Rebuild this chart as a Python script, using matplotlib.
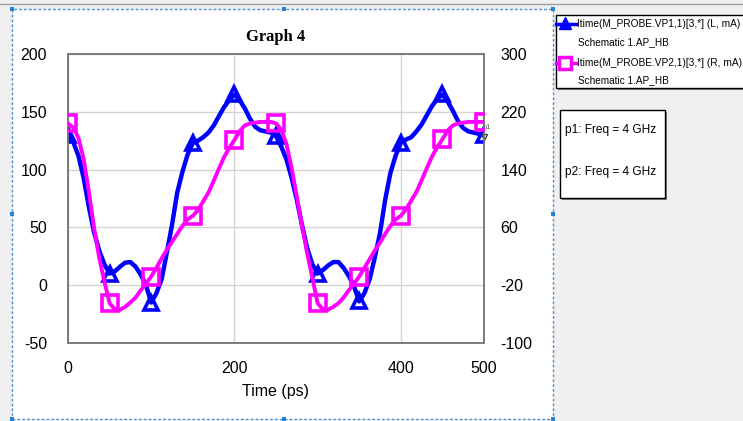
import numpy as np
import matplotlib
matplotlib.use("Agg")
import matplotlib.pyplot as plt
import matplotlib.patches as mpatches
from matplotlib.lines import Line2D

plt.rcParams['font.family'] = ['Liberation Sans', 'DejaVu Sans']
plt.rcParams['axes.unicode_minus'] = False

W, H = 743, 421

################################################
# Data: time-domain port currents, 4 GHz (6.25 ps steps)

time_ps = np.linspace(0, 500, 81)

# Itime VP1 (left axis, mA)
vp1_ma = [130, 124, 112, 93, 68, 46, 30, 18,
          10, 12, 16, 19.5, 20, 16, 9, 0,
          -15, -7, 5, 28, 52, 80, 98, 113,
          123, 125, 128, 132, 138, 146, 154, 160,
          165, 160, 153, 144, 137, 134, 133, 132,
          129, 120, 109, 93, 74, 52, 32, 18,
          10, 13, 17, 20, 20, 15, 8, -1,
          -14, -7, 5, 24, 45, 74, 97, 112,
          123, 126, 128, 133, 139, 147, 155, 161,
          165, 159, 151, 142, 136, 133, 132, 131,
          130]

# Itime VP2 (right axis, mA)
vp2_ma = [204, 198, 184, 155, 110, 60, 18, -15,
          -45, -53, -54, -50, -44, -37, -27, -18,
          -8, 4, 17, 29, 40, 51, 62, 71,
          76, 84, 96, 108, 124, 141, 157, 170,
          181, 193, 201, 204, 205, 206, 206, 206,
          204, 195, 176, 142, 103, 62, 24, -10,
          -45, -53, -54, -50, -45, -37, -27, -18,
          -8, 4, 16, 28, 39, 51, 62, 71,
          76, 85, 97, 109, 125, 142, 158, 171,
          182, 194, 201, 204, 205, 206, 206, 206,
          206]

left_ticks = [-50, 0, 50, 100, 150, 200]
right_ticks = [-100, -20, 60, 140, 220, 300]
x_ticks = [0, 200, 400, 500]

legend_lines = ['Itime(M_PROBE.VP1,1)[3,*] (L, mA)', 'Itime(M_PROBE.VP2,1)[3,*] (R, mA)']
legend_sub = 'Schematic 1.AP_HB'
marker_lines = ['p1: Freq = 4 GHz', 'p2: Freq = 4 GHz']

BLUE = '#0000ff'
MAGENTA = '#ff00ff'

################################################
# Helpers for placing things in pixel units

def fx(x):
	return x / W

def fy(y):
	return 1 - y / H

def prect(fig, x0, y0, x1, y1, z=-5, **kw):
	r = mpatches.Rectangle((fx(x0), fy(y1)), fx(x1 - x0), (y1 - y0) / H,
		transform=fig.transFigure, zorder=z, **kw)
	fig.add_artist(r)
	return r

################################################
# Window / panel decoration

fig = plt.figure(figsize=(W / 100, H / 100), dpi=100, facecolor='#f0f0f0')

fig.add_artist(Line2D([0, 1], [fy(4), fy(4)], transform=fig.transFigure, color='#a0a0a0', lw=1, zorder=-5))
prect(fig, 12, 9, 553, 419, facecolor='white', edgecolor='#4a90d9', lw=1, linestyle=(0, (2, 1.5)))
for hx, hy in [(12, 9), (284, 9), (553, 9), (12, 214), (553, 214), (12, 419), (284, 419), (553, 419)]:
	prect(fig, hx - 2, hy - 2, hx + 2, hy + 2, facecolor='#2a7fd4', edgecolor='none')

# legend box
prect(fig, 558, 17, 760, 90, facecolor='#808080', edgecolor='none')
prect(fig, 556, 15, 758, 88, facecolor='white', edgecolor='black', lw=1)
fig.add_artist(Line2D([fx(556), fx(576)], [fy(24), fy(24)], transform=fig.transFigure,
	color=BLUE, lw=2.5))
fig.add_artist(Line2D([fx(565)], [fy(23)], transform=fig.transFigure, color=BLUE,
	marker='^', markersize=9, lw=0))
fig.add_artist(Line2D([fx(556), fx(576)], [fy(63), fy(63)], transform=fig.transFigure,
	color=MAGENTA, lw=2.5))
fig.add_artist(Line2D([fx(565)], [fy(63)], transform=fig.transFigure, color=MAGENTA,
	marker='s', markersize=9, markerfacecolor='white', markeredgewidth=2.5, lw=0))
for i, name in enumerate(legend_lines):
	fig.text(fx(577), fy(24 + i * 39), name, fontsize=7.3, va='center', ha='left')
	fig.text(fx(578), fy(42 + i * 38), legend_sub, fontsize=7.2, va='center', ha='left')

# marker readout box
prect(fig, 562, 112, 667, 200, facecolor='#808080', edgecolor='none')
prect(fig, 560, 110, 665, 198, facecolor='white', edgecolor='black', lw=1)
for i, line in enumerate(marker_lines):
	fig.text(fx(565), fy(130 + i * 42), line, fontsize=8.6, va='center', ha='left')

################################################
# Graph

ax = fig.add_axes([fx(68), fy(343), fx(484 - 68), (343 - 54) / H])
ax.patch.set_alpha(0)
ax2 = ax.twinx()

ax.plot(time_ps, vp1_ma, color=BLUE, lw=3.2, solid_joinstyle='round',
	marker='^', markevery=8, markersize=10, markerfacecolor='none',
	markeredgewidth=2.6, zorder=3)
ax2.plot(time_ps, vp2_ma, color=MAGENTA, lw=2.8, solid_joinstyle='round',
	marker='s', markevery=8, markersize=11, markerfacecolor='none',
	markeredgewidth=2.6, zorder=3)

ax.set_xlim(0, 500)
ax.set_ylim(-50, 200)
ax2.set_ylim(-100, 300)
ax.set_xticks(x_ticks)
ax.set_yticks(left_ticks)
ax2.set_yticks(right_ticks)

ax.grid(True, color='#d4d4d4', lw=1)
ax.set_axisbelow(True)
ax.tick_params(axis='both', length=0, labelsize=11.5)
ax.tick_params(axis='y', pad=15)
ax.tick_params(axis='x', pad=13)
ax2.tick_params(axis='y', length=0, labelsize=11.5, pad=12)

for a in (ax, ax2):
	for s in a.spines.values():
		s.set_color('#7a7a7a')
		s.set_linewidth(1.2)

ax.set_xlabel('Time (ps)', fontsize=11.5, labelpad=6)

# marker p1 at the end of the trace
ax.plot([500], [vp1_ma[-1] - 2], marker='v', markersize=5, color='#404040',
	markerfacecolor='none', lw=0, clip_on=False, zorder=4)
ax.text(498, vp1_ma[-1] + 3, 'p1', fontsize=5.5, color='#606060', ha='left', va='bottom',
	clip_on=False)

fig.text(fx(276), fy(37), 'Graph 4', family=['Liberation Serif', 'DejaVu Serif'],
	fontweight='bold', fontsize=12, ha='center', va='center')

fig.savefig('out.png', dpi=100, facecolor=fig.get_facecolor())
